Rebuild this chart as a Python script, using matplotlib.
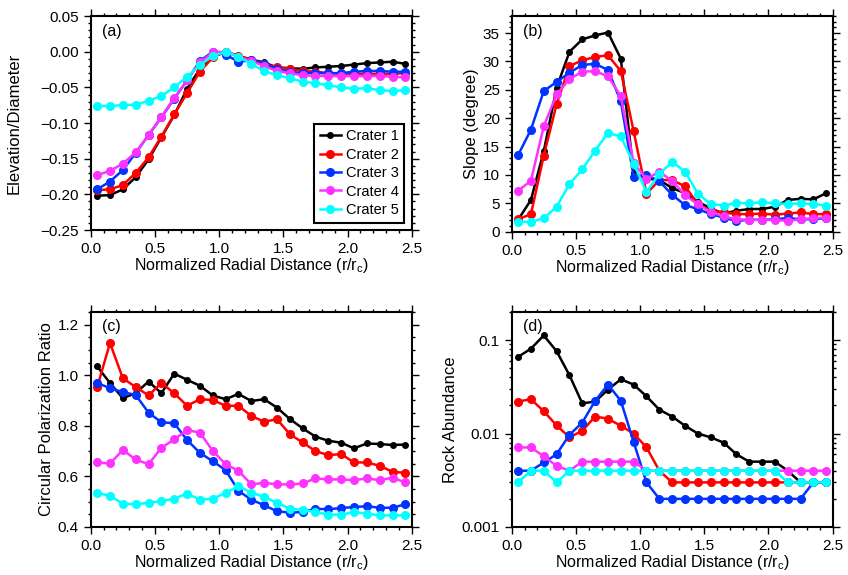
import numpy as np
import matplotlib
matplotlib.use("Agg")
import matplotlib.pyplot as plt
from matplotlib.ticker import MultipleLocator, LogLocator, NullFormatter

plt.rcParams['font.family'] = ['Liberation Sans', 'DejaVu Sans']
plt.rcParams['mathtext.fontset'] = 'custom'
plt.rcParams['mathtext.rm'] = 'Liberation Sans'
plt.rcParams['mathtext.it'] = 'Liberation Sans'

x = [0.05, 0.15, 0.25, 0.35, 0.45, 0.55, 0.65, 0.75, 0.85, 0.95, 1.05, 1.15, 1.25,
     1.35, 1.45, 1.55, 1.65, 1.75, 1.85, 1.95, 2.05, 2.15, 2.25, 2.35, 2.45]

names = ["Crater 1", "Crater 2", "Crater 3", "Crater 4", "Crater 5"]
colors = ["black", "#ff0000", "#0033ff", "#ff33ff", "#00ffff"]

# (a) elevation / diameter
elev1 = [-0.202, -0.201, -0.193, -0.176, -0.151, -0.120, -0.089, -0.052, -0.024, -0.006, 0.0, -0.006, -0.011,
         -0.015, -0.022, -0.023, -0.024, -0.022, -0.021, -0.020, -0.018, -0.016, -0.015, -0.014, -0.017]
elev2 = [-0.194, -0.193, -0.187, -0.170, -0.148, -0.119, -0.088, -0.058, -0.028, -0.008, 0.0, -0.006, -0.011,
         -0.017, -0.022, -0.024, -0.027, -0.028, -0.030, -0.031, -0.031, -0.031, -0.031, -0.031, -0.030]
elev3 = [-0.193, -0.182, -0.166, -0.142, -0.117, -0.092, -0.066, -0.040, -0.013, 0.0, -0.004, -0.014, -0.012,
         -0.017, -0.024, -0.028, -0.030, -0.030, -0.030, -0.030, -0.028, -0.027, -0.027, -0.028, -0.028]
elev4 = [-0.173, -0.167, -0.157, -0.141, -0.117, -0.091, -0.065, -0.040, -0.015, -0.001, 0.0, -0.007, -0.013,
         -0.020, -0.027, -0.030, -0.033, -0.034, -0.034, -0.034, -0.034, -0.034, -0.034, -0.035, -0.036]
elev5 = [-0.076, -0.076, -0.075, -0.074, -0.069, -0.062, -0.050, -0.035, -0.019, -0.006, 0.0, -0.007, -0.017,
         -0.027, -0.033, -0.037, -0.042, -0.044, -0.047, -0.050, -0.052, -0.051, -0.054, -0.055, -0.054]

# (b) slope
slope1 = [2.1, 5.6, 14.2, 25.4, 31.7, 33.9, 34.6, 35.1, 30.5, 10.3, 9.4, 9.1, 7.7,
          6.8, 5.3, 4.1, 3.2, 3.7, 4.0, 4.0, 4.4, 5.6, 5.8, 5.7, 6.8]
slope2 = [2.2, 3.1, 13.4, 22.5, 29.2, 30.2, 30.8, 31.1, 28.3, 17.7, 6.7, 9.1, 9.1,
          8.0, 4.9, 3.7, 3.4, 3.1, 3.1, 3.2, 3.0, 3.2, 3.4, 3.1, 3.1]
slope3 = [13.5, 18.0, 24.8, 26.4, 28.0, 29.4, 29.6, 28.5, 23.0, 9.7, 10.0, 8.9, 6.5,
          4.7, 4.0, 3.1, 2.5, 1.9, 2.1, 2.1, 2.2, 2.4, 2.2, 2.2, 2.4]
slope4 = [7.2, 9.0, 18.6, 24.2, 26.9, 28.2, 28.3, 27.4, 23.9, 12.1, 9.3, 10.6, 8.9,
          6.5, 4.8, 3.5, 2.7, 2.2, 2.1, 2.1, 2.1, 1.9, 2.2, 2.4, 2.5]
slope5 = [1.8, 1.7, 2.4, 4.4, 8.4, 11.0, 14.3, 17.4, 16.8, 12.0, 7.0, 10.2, 12.3,
          10.6, 6.7, 4.9, 4.6, 5.1, 5.0, 5.2, 5.0, 4.9, 5.0, 4.9, 4.6]

# (c) circular polarization ratio
cpr1 = [1.035, 0.969, 0.909, 0.929, 0.975, 0.929, 1.006, 0.982, 0.958, 0.920, 0.905, 0.926, 0.898,
        0.905, 0.872, 0.827, 0.790, 0.757, 0.741, 0.733, 0.711, 0.730, 0.728, 0.724, 0.726]
cpr2 = [0.953, 1.127, 0.988, 0.953, 0.920, 0.969, 0.929, 0.879, 0.905, 0.902, 0.879, 0.879, 0.839,
        0.816, 0.826, 0.767, 0.734, 0.700, 0.684, 0.688, 0.655, 0.655, 0.642, 0.618, 0.614]
cpr3 = [0.969, 0.949, 0.933, 0.922, 0.852, 0.814, 0.810, 0.744, 0.693, 0.660, 0.625, 0.543, 0.508,
        0.486, 0.462, 0.457, 0.459, 0.472, 0.470, 0.475, 0.479, 0.482, 0.476, 0.476, 0.490]
cpr4 = [0.655, 0.651, 0.704, 0.667, 0.648, 0.713, 0.746, 0.783, 0.773, 0.701, 0.648, 0.622, 0.569,
        0.574, 0.569, 0.568, 0.572, 0.592, 0.588, 0.588, 0.585, 0.592, 0.585, 0.595, 0.576]
cpr5 = [0.535, 0.523, 0.492, 0.490, 0.496, 0.502, 0.512, 0.532, 0.508, 0.512, 0.535, 0.561, 0.536,
        0.519, 0.496, 0.472, 0.468, 0.459, 0.449, 0.449, 0.459, 0.453, 0.446, 0.446, 0.446]

# (d) rock abundance
rock1 = [0.066, 0.081, 0.112, 0.076, 0.042, 0.021, 0.022, 0.0295, 0.038, 0.0334, 0.025, 0.018, 0.0152,
         0.0121, 0.010, 0.0091, 0.008, 0.006, 0.005, 0.005, 0.005, 0.004, 0.003, 0.003, 0.003]
rock2 = [0.022, 0.0233, 0.0173, 0.0122, 0.0091, 0.0107, 0.0152, 0.0144, 0.0121, 0.010, 0.0071, 0.004, 0.003,
         0.003, 0.003, 0.003, 0.003, 0.003, 0.003, 0.003, 0.003, 0.003, 0.003, 0.003, 0.003]
rock3 = [0.004, 0.004, 0.0049, 0.006, 0.0097, 0.0131, 0.0224, 0.0334, 0.0224, 0.0081, 0.003, 0.002, 0.002,
         0.002, 0.002, 0.002, 0.002, 0.002, 0.002, 0.002, 0.002, 0.002, 0.002, 0.003, 0.003]
rock4 = [0.0071, 0.0071, 0.0057, 0.0045, 0.004, 0.005, 0.005, 0.005, 0.005, 0.005, 0.004, 0.004, 0.004,
         0.004, 0.004, 0.004, 0.004, 0.004, 0.004, 0.004, 0.004, 0.004, 0.004, 0.004, 0.004]
rock5 = [0.003, 0.004, 0.004, 0.003, 0.004, 0.004, 0.004, 0.004, 0.004, 0.004, 0.004, 0.004, 0.004,
         0.004, 0.004, 0.004, 0.004, 0.004, 0.004, 0.004, 0.004, 0.003, 0.003, 0.003, 0.003]

panels = [
    ("(a)", "Elevation/Diameter", [elev1, elev2, elev3, elev4, elev5]),
    ("(b)", "Slope (degree)", [slope1, slope2, slope3, slope4, slope5]),
    ("(c)", "Circular Polarization Ratio", [cpr1, cpr2, cpr3, cpr4, cpr5]),
    ("(d)", "Rock Abundance", [rock1, rock2, rock3, rock4, rock5]),
]

fig = plt.figure(figsize=(8.48, 5.75), dpi=100)
boxes = [[0.107, 0.600, 0.3786, 0.372],
         [0.6034, 0.597, 0.3785, 0.375],
         [0.107, 0.0835, 0.3786, 0.374],
         [0.6034, 0.0835, 0.3785, 0.374]]

for i, (tag, ylabel, series) in enumerate(panels):
    ax = fig.add_axes(boxes[i])
    for k, ys in enumerate(series):
        ms = 4 if k == 0 else 5.5
        ax.plot(x, ys, '-o', color=colors[k], lw=1.8, ms=ms, label=names[k])
    ax.set_xlim(0, 2.5)
    ax.xaxis.set_major_locator(MultipleLocator(0.5))
    ax.xaxis.set_minor_locator(MultipleLocator(0.1))
    ax.set_xlabel(r"Normalized Radial Distance (r/r$_\mathregular{c}$)", fontsize=11.5, labelpad=0)
    ax.set_ylabel(ylabel, fontsize=12, labelpad=3)
    ax.text(0.035, 0.965, tag, transform=ax.transAxes, fontsize=11.5, ha='left', va='top')
    for s in ax.spines.values():
        s.set_linewidth(1.5)
    ax.tick_params(which='both', direction='out', top=True, right=True, labelsize=11, width=1)
    ax.tick_params(which='major', length=5)
    ax.tick_params(which='minor', length=2.5)

    if i == 0:
        ax.set_ylim(-0.25, 0.05)
        ax.yaxis.set_major_locator(MultipleLocator(0.05))
        ax.yaxis.set_minor_locator(MultipleLocator(0.01))
        ax.yaxis.set_major_formatter(plt.FuncFormatter(lambda v, p: f"{v:.2f}".replace("-", "\u2212")))
        ax.yaxis.set_label_coords(-0.215, 0.5)
        leg = ax.legend(loc='lower right', fontsize=10.5, frameon=True, fancybox=False,
                        handlelength=1.5, handletextpad=0.3, borderpad=0.4, labelspacing=0.3,
                        bbox_to_anchor=(1.0, 0.0))
        leg.get_frame().set_edgecolor('black')
        leg.get_frame().set_linewidth(1.5)
        leg.get_frame().set_alpha(1)
    elif i == 1:
        ax.set_ylim(0, 38)
        ax.yaxis.set_major_locator(MultipleLocator(5))
        ax.yaxis.set_minor_locator(MultipleLocator(1))
    elif i == 2:
        ax.set_ylim(0.4, 1.25)
        ax.yaxis.set_major_locator(MultipleLocator(0.2))
        ax.yaxis.set_minor_locator(MultipleLocator(0.05))
        ax.yaxis.set_major_formatter(plt.FuncFormatter(lambda v, p: f"{v:.1f}"))
    else:
        ax.set_yscale('log')
        ax.set_ylim(0.001, 0.2)
        ax.set_yticks([0.001, 0.01, 0.1])
        ax.set_yticklabels(["0.001", "0.01", "0.1"])
        ax.yaxis.set_minor_locator(LogLocator(base=10, subs=np.arange(2, 10)))
        ax.yaxis.set_minor_formatter(NullFormatter())

fig.savefig("out.png", dpi=100)
